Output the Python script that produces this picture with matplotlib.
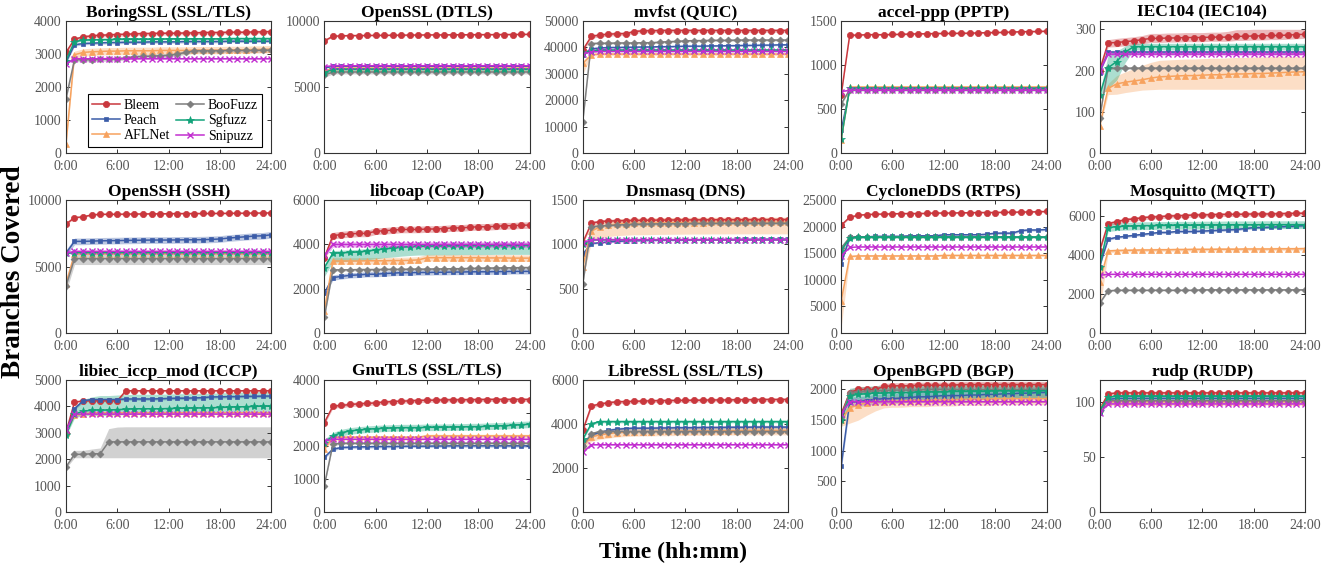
import numpy as np
import matplotlib.pyplot as plt

plt.rcParams['font.family'] = ['Liberation Serif', 'DejaVu Serif']

hours = list(range(25))
tools = ['Bleem', 'Peach', 'AFLNet', 'BooFuzz', 'Sgfuzz', 'Snipuzz']
colors = {'Bleem': '#c9373d', 'Peach': '#3b5ca8', 'AFLNet': '#f7a25e',
          'BooFuzz': '#7d7d7d', 'Sgfuzz': '#12a37a', 'Snipuzz': '#c22fd0'}
markers = {'Bleem': 'o', 'Peach': 's', 'AFLNet': '^', 'BooFuzz': 'D', 'Sgfuzz': '*', 'Snipuzz': 'x'}
msizes = {'Bleem': 4.5, 'Peach': 3.5, 'AFLNet': 5, 'BooFuzz': 3.5, 'Sgfuzz': 6, 'Snipuzz': 4}

titles = ['BoringSSL (SSL/TLS)', 'OpenSSL (DTLS)', 'mvfst (QUIC)', 'accel-ppp (PPTP)', 'IEC104 (IEC104)',
          'OpenSSH (SSH)', 'libcoap (CoAP)', 'Dnsmasq (DNS)', 'CycloneDDS (RTPS)', 'Mosquitto (MQTT)',
          'libiec_iccp_mod (ICCP)', 'GnuTLS (SSL/TLS)', 'LibreSSL (SSL/TLS)', 'OpenBGPD (BGP)', 'rudp (RUDP)']
ylims = [4000, 10000, 50000, 1500, 320,
         10000, 6000, 1500, 25000, 6800,
         5000, 4000, 6000, 2160, 120]
yticks = [[0, 1000, 2000, 3000, 4000], [0, 5000, 10000], [0, 10000, 20000, 30000, 40000, 50000],
          [0, 500, 1000, 1500], [0, 100, 200, 300],
          [0, 5000, 10000], [0, 2000, 4000, 6000], [0, 500, 1000, 1500],
          [0, 5000, 10000, 15000, 20000, 25000], [0, 2000, 4000, 6000],
          [0, 1000, 2000, 3000, 4000, 5000], [0, 1000, 2000, 3000, 4000], [0, 2000, 4000, 6000],
          [0, 500, 1000, 1500, 2000], [0, 50, 100]]

# ---- mean coverage per hour ----
boringssl = {
    'Bleem': [3050, 3450, 3520, 3550, 3570, 3580, 3590, 3600, 3610, 3620, 3620, 3630, 3630, 3630, 3640, 3640, 3650, 3650, 3650, 3660, 3660, 3660, 3670, 3670, 3680],
    'Peach': [2750, 3280, 3320, 3330, 3340, 3350, 3350, 3360, 3360, 3360, 3370, 3370, 3370, 3370, 3380, 3380, 3380, 3380, 3380, 3390, 3390, 3390, 3390, 3390, 3390],
    'AFLNet': [280, 2980, 3050, 3070, 3080, 3090, 3090, 3100, 3100, 3100, 3100, 3110, 3110, 3110, 3110, 3120, 3120, 3120, 3120, 3130, 3130, 3130, 3140, 3140, 3150],
    'BooFuzz': [1650, 2830, 2830, 2830, 2840, 2850, 2860, 2880, 2920, 2930, 2940, 2950, 2960, 3000, 3050, 3100, 3100, 3100, 3100, 3110, 3110, 3110, 3110, 3120, 3120],
    'Sgfuzz': [2800, 3380, 3420, 3430, 3440, 3440, 3450, 3450, 3450, 3450, 3450, 3450, 3460, 3460, 3460, 3460, 3460, 3460, 3460, 3470, 3470, 3470, 3470, 3470, 3470],
    'Snipuzz': [2700] + [2860] * 24,
}
boringssl_band = {'Bleem': 50, 'Peach': 40, 'AFLNet': 110, 'BooFuzz': 60, 'Sgfuzz': 30, 'Snipuzz': 15}

openssl = {
    'Bleem': [8500, 8850, 8880, 8900, 8900, 8910, 8920, 8920, 8930, 8930, 8940, 8940, 8950, 8950, 8950, 8960, 8960, 8960, 8970, 8970, 8970, 8980, 8980, 8990, 9000],
    'Peach': [6450] + [6580] * 24,
    'AFLNet': [6200] + [6450] * 24,
    'BooFuzz': [5900] + [6150] * 24,
    'Sgfuzz': [6100] + [6350] * 24,
    'Snipuzz': [6550] + [6620] * 24,
}
openssl_band = {'Bleem': 60, 'Peach': 40, 'AFLNet': 60, 'BooFuzz': 150, 'Sgfuzz': 100, 'Snipuzz': 20}

mvfst = {
    'Bleem': [39000, 44200, 44700, 45000, 45200, 45200, 46000, 46300, 46300] + [46400] * 16,
    'Peach': [37000, 39500, 39800, 40000, 40000, 40100, 40100, 40200, 40200, 40300, 40300, 40400, 40500, 40500, 40500, 40600, 40600, 40700, 40700, 40800, 40800, 40900, 40900, 41000, 41000],
    'AFLNet': [34000, 37300] + [37500] * 23,
    'BooFuzz': [12000, 41500, 41600, 41600, 41700, 41700, 41700, 41800, 41800, 42000, 42200, 42300, 42500, 42600, 42600, 42700, 42700, 42700, 42800, 42800, 42800, 42800, 42800, 42800, 42800],
    'Sgfuzz': [37800, 38800] + [39000] * 23,
    'Snipuzz': [37500, 38300] + [38500] * 23,
}
mvfst_band = {'Bleem': 700, 'Peach': 300, 'AFLNet': ([4000, 500] + [500] * 23, 500), 'BooFuzz': 400, 'Sgfuzz': 300, 'Snipuzz': 150}

accel = {
    'Bleem': [660, 1340, 1340, 1345, 1345, 1345, 1348, 1350, 1352, 1355, 1355, 1358, 1360, 1360, 1362, 1362, 1365, 1368, 1370, 1372, 1375, 1378, 1380, 1382, 1385],
    'Peach': [260] + [720] * 24,
    'AFLNet': [150] + [752] * 24,
    'BooFuzz': [560] + [722] * 24,
    'Sgfuzz': [160] + [738] * 24,
    'Snipuzz': [700] + [715] * 24,
}
accel_band = {'Bleem': 10, 'Peach': 10, 'AFLNet': 12, 'BooFuzz': 10, 'Sgfuzz': 10, 'Snipuzz': 5}

iec104 = {
    'Bleem': [200, 267, 268, 270, 272, 275, 278, 278, 279, 279, 280, 280, 280, 281, 281, 281, 283, 283, 284, 284, 285, 285, 286, 287, 288],
    'Peach': [195] + [245] * 24,
    'AFLNet': [65, 157, 168, 172, 175, 178, 182, 185, 186, 187, 188, 188, 189, 190, 190, 191, 192, 192, 193, 193, 194, 195, 196, 197, 197],
    'BooFuzz': [85] + [206] * 24,
    'Sgfuzz': [140, 207, 222, 245] + [258] * 21,
    'Snipuzz': [200] + [240] * 24,
}
iec104_band = {'Bleem': ([5] + [10] * 24, [5, 8, 10, 10, 10, 10, 12, 12, 12, 12, 12, 12, 12, 12, 12, 14, 16, 16, 16, 16, 15, 15, 14, 13, 12]),
               'Peach': 4,
               'AFLNet': ([5, 15, 25, 25, 25, 25, 28, 30, 31, 32, 33, 33, 34, 35, 35, 36, 37, 37, 38, 38, 39, 40, 41, 42, 42],
                          [5, 12, 20, 25, 30, 35, 38, 40, 40, 40, 40, 40, 40, 40, 40, 40, 40, 40, 40, 40, 40, 40, 38, 37, 37]),
               'BooFuzz': 3,
               'Sgfuzz': ([5, 50, 45, 25] + [8] * 21, [5, 30, 25, 15] + [8] * 21),
               'Snipuzz': 3}

openssh = {
    'Bleem': [8200, 8700, 8750, 8900, 8950, 8950, 8950, 8960, 8970, 8970, 8980, 8980, 8990, 9000, 9000, 9000, 9010, 9010, 9020, 9020, 9030, 9030, 9040, 9040, 9050],
    'Peach': [6000, 6900, 6900, 6920, 6940, 6950, 6960, 6970, 6980, 6990, 7000, 7000, 7000, 7010, 7020, 7020, 7030, 7050, 7080, 7150, 7200, 7250, 7300, 7320, 7400],
    'AFLNet': [3700] + [5950] * 24,
    'BooFuzz': [3500] + [5600] * 24,
    'Sgfuzz': [6000] + [6050] * 24,
    'Snipuzz': [6000] + [6150] * 24,
}
openssh_band = {'Bleem': 60, 'Peach': 250, 'AFLNet': 60, 'BooFuzz': 450, 'Sgfuzz': 60, 'Snipuzz': 30}

libcoap = {
    'Bleem': [3400, 4400, 4450, 4480, 4500, 4500, 4600, 4620, 4650, 4680, 4680, 4680, 4700, 4700, 4720, 4750, 4750, 4780, 4800, 4800, 4820, 4850, 4850, 4870, 4880],
    'Peach': [1800, 2500, 2550, 2600, 2620, 2650, 2650, 2680, 2700, 2720, 2720, 2730, 2730, 2740, 2740, 2750, 2750, 2760, 2760, 2760, 2770, 2770, 2780, 2780, 2780],
    'AFLNet': [1000, 3250, 3250, 3250, 3250, 3260, 3260, 3260, 3270, 3270, 3280, 3300, 3400, 3400, 3400, 3400, 3400, 3400, 3400, 3390, 3390, 3390, 3380, 3380, 3380],
    'BooFuzz': [700, 2850, 2850, 2850, 2860, 2860, 2860, 2870, 2870, 2870, 2880, 2880, 2880, 2890, 2890, 2900, 2900, 2910, 2920, 2930, 2930, 2940, 2940, 2950, 2950],
    'Sgfuzz': [2950, 3600, 3620, 3640, 3660, 3700, 3750, 3800, 3830, 3870, 3900, 3920, 3920, 3930, 3930, 3930, 3940, 3940, 3940, 3940, 3950, 3950, 3950, 3950, 3950],
    'Snipuzz': [3500] + [4000] * 24,
}
libcoap_band = {'Bleem': 150, 'Peach': 120, 'AFLNet': 150, 'BooFuzz': 60, 'Sgfuzz': (400, 120), 'Snipuzz': 120}

dnsmasq = {
    'Bleem': [1020, 1240, 1260, 1265, 1268, 1270, 1272, 1274, 1275, 1276, 1277, 1278, 1278, 1279, 1279, 1280, 1280, 1280, 1280, 1280, 1281, 1281, 1282, 1282, 1282],
    'Peach': [890, 1010, 1020, 1030, 1035, 1040, 1042, 1045, 1047, 1048, 1050, 1050, 1052, 1053, 1054, 1055, 1055, 1056, 1057, 1058, 1058, 1059, 1060, 1060, 1060],
    'AFLNet': [750, 1150, 1200, 1220, 1230, 1235, 1240, 1240, 1242, 1244, 1245, 1246, 1247, 1248, 1248, 1249, 1249, 1250, 1250, 1250, 1250, 1250, 1250, 1250, 1250],
    'BooFuzz': [550, 1200, 1210, 1215, 1220, 1225, 1228, 1230, 1232, 1234, 1235, 1236, 1237, 1238, 1238, 1239, 1239, 1240, 1240, 1240, 1240, 1240, 1240, 1240, 1240],
    'Sgfuzz': [1000] + [1055] * 24,
    'Snipuzz': [1020] + [1052] * 24,
}
dnsmasq_band = {'Bleem': 20, 'Peach': 10, 'AFLNet': (130, 60), 'BooFuzz': 15, 'Sgfuzz': 8, 'Snipuzz': 5}

cyclonedds = {
    'Bleem': [20300, 21800, 22200, 22300, 22400, 22400, 22450, 22500, 22500, 22500, 22550, 22600, 22600, 22600, 22650, 22650, 22700, 22700, 22700, 22750, 22750, 22800, 22800, 22850, 22900],
    'Peach': [13000, 18000, 18100, 18100, 18200, 18200, 18200, 18200, 18300, 18300, 18300, 18300, 18500, 18500, 18500, 18500, 18500, 18600, 18800, 18800, 18800, 19300, 19400, 19400, 19500],
    'AFLNet': [6000, 14400] + [14500] * 10 + [14600] * 13,
    'BooFuzz': [16000, 18000] + [18100] * 23,
    'Sgfuzz': [15500, 17900] + [18000] * 23,
    'Snipuzz': [14500, 16100] + [16200] * 23,
}
cyclonedds_band = {'Bleem': 150, 'Peach': 200, 'AFLNet': ([5000, 200] + [150] * 23, 150),
                   'BooFuzz': ([1500, 600] + [100] * 23, 100), 'Sgfuzz': 100, 'Snipuzz': 50}

mosquitto = {
    'Bleem': [4200, 5600, 5700, 5800, 5850, 5900, 5950, 5950, 6000, 6000, 6020, 6050, 6050, 6060, 6070, 6080, 6080, 6090, 6100, 6100, 6100, 6110, 6120, 6130, 6140],
    'Peach': [3400, 4800, 4900, 4950, 5000, 5050, 5100, 5150, 5150, 5200, 5200, 5200, 5220, 5240, 5260, 5280, 5300, 5350, 5400, 5400, 5420, 5440, 5460, 5480, 5500],
    'AFLNet': [2600, 4200, 4220, 4230, 4240, 4250, 4250, 4260, 4260, 4270, 4270, 4280, 4280, 4280, 4290, 4290, 4290, 4300, 4300, 4300, 4300, 4310, 4310, 4310, 4320],
    'BooFuzz': [1500, 2150] + [2180] * 10 + [2200] * 13,
    'Sgfuzz': [3400, 5400, 5450, 5470, 5480, 5500, 5500, 5510, 5510, 5520, 5520, 5520, 5530, 5530, 5530, 5540, 5540, 5540, 5540, 5550, 5550, 5550, 5550, 5550, 5550],
    'Snipuzz': [2950] + [3000] * 24,
}
mosquitto_band = {'Bleem': 100, 'Peach': 60, 'AFLNet': ([1500, 100] + [80] * 23, 80), 'BooFuzz': 40, 'Sgfuzz': 200, 'Snipuzz': 20}

iccp = {
    'Bleem': [3000, 4150, 4200, 4200, 4200, 4200, 4200] + [4580] * 18,
    'Peach': [3000, 3900, 4200, 4250, 4250, 4250, 4250, 4270, 4270, 4270, 4270, 4280, 4290, 4300, 4300, 4310, 4320, 4350, 4350, 4360, 4360, 4370, 4370, 4380, 4380],
    'AFLNet': [3000, 3650, 3700] + [3750] * 22,
    'BooFuzz': [1700, 2180, 2180, 2200, 2200] + [2650] * 20,
    'Sgfuzz': [2900, 3700, 3800, 3850, 3850, 3850, 3870, 3880, 3900, 3900, 3900, 3900, 3910, 3920, 3920, 3930, 3930, 3940, 3950, 3960, 3970, 3980, 3990, 4000, 4000],
    'Snipuzz': [3100] + [3700] * 24,
}
iccp_band = {'Bleem': 40, 'Peach': 50, 'AFLNet': 50,
             'BooFuzz': ([50, 130, 130, 150, 150] + [600] * 20, [50, 150, 150, 180, 220, 500, 560] + [570] * 18),
             'Sgfuzz': ([50, 150, 150] + [200] * 22, [50, 300, 450, 500] + [550] * 21), 'Snipuzz': 20}

gnutls = {
    'Bleem': [2700, 3200, 3220, 3250, 3270, 3280, 3300, 3320, 3340, 3350, 3360, 3370, 3380, 3380, 3390, 3390, 3390, 3395, 3395, 3400, 3400, 3400, 3400, 3400, 3400],
    'Peach': [1650, 1900, 1950, 1960, 1970, 1970, 1980, 1980, 1980, 1985, 1990, 1990, 1990, 1995, 1995] + [2000] * 10,
    'AFLNet': [1900, 2250] + [2260] * 10 + [2300] * 13,
    'BooFuzz': [800, 2050] + [2080] * 23,
    'Sgfuzz': [2100, 2300, 2400, 2450, 2480, 2500, 2520, 2530, 2540, 2550, 2550, 2550, 2560, 2560, 2560, 2570, 2570, 2580, 2580, 2590, 2600, 2610, 2620, 2640, 2650],
    'Snipuzz': [2150] + [2200] * 24,
}
gnutls_band = {'Bleem': 60, 'Peach': 40, 'AFLNet': 50, 'BooFuzz': 40, 'Sgfuzz': 100, 'Snipuzz': 20}

libressl = {
    'Bleem': [3700, 4800, 4900, 4950, 5000, 5000, 5020, 5030, 5040, 5050, 5050, 5060, 5060, 5070, 5070, 5080, 5080, 5080, 5090, 5090, 5090, 5100, 5100, 5100, 5100],
    'Peach': [3000, 3500, 3600, 3700, 3750, 3780, 3800, 3800, 3800, 3810, 3810, 3820, 3820, 3820, 3830, 3830, 3830, 3840, 3840, 3840, 3850, 3850, 3850, 3850, 3850],
    'AFLNet': [3000, 3400, 3500, 3550, 3600, 3620, 3640, 3650, 3650, 3660, 3660, 3670, 3670, 3680, 3680, 3680, 3690, 3690, 3690, 3700, 3700, 3700, 3700, 3700, 3700],
    'BooFuzz': [3000, 3550] + [3650] * 23,
    'Sgfuzz': [3300, 4000] + [4100] * 23,
    'Snipuzz': [2700] + [3050] * 24,
}
libressl_band = {'Bleem': 80, 'Peach': 80, 'AFLNet': 200, 'BooFuzz': 60, 'Sgfuzz': 60, 'Snipuzz': 20}

openbgpd = {
    'Bleem': [1600, 1950, 2000, 2000, 2000, 2050, 2060, 2060, 2060, 2070, 2070, 2070, 2070, 2070] + [2080] * 11,
    'Peach': [750, 1800, 1800, 1820, 1840, 1850, 1850, 1860, 1870, 1880, 1880, 1890, 1900, 1900, 1900, 1910, 1910, 1920, 1920, 1930, 1930, 1940, 1940, 1950, 1950],
    'AFLNet': [1500, 1700, 1750, 1780, 1800, 1800, 1810, 1810, 1820, 1820, 1820, 1830, 1830, 1830, 1840, 1840, 1840, 1840, 1850, 1850, 1850, 1850, 1850, 1850, 1850],
    'BooFuzz': [1550, 1950, 1960, 1970, 1980, 1980, 1990, 1990, 1990, 1990] + [2000] * 15,
    'Sgfuzz': [1500, 1900, 1920, 1930, 1940, 1940, 1950, 1950, 1950, 1960, 1960, 1960, 1960, 1970, 1970, 1970, 1970, 1970] + [1980] * 7,
    'Snipuzz': [1600] + [1800] * 24,
}
openbgpd_band = {'Bleem': 50, 'Peach': 80, 'AFLNet': ([100, 250, 250, 200, 150] + [100] * 20, 80),
                 'BooFuzz': 40, 'Sgfuzz': 120, 'Snipuzz': 15}

rudp = {
    'Bleem': [93, 107] + [108] * 23,
    'Peach': [90, 102] + [103] * 23,
    'AFLNet': [95] + [100] * 24,
    'BooFuzz': [92] + [101] * 24,
    'Sgfuzz': [92, 104] + [105] * 23,
    'Snipuzz': [90] + [98] * 24,
}
rudp_band = {'Bleem': 1.5, 'Peach': 1.5, 'AFLNet': 1.5, 'BooFuzz': 1.5, 'Sgfuzz': 1.5, 'Snipuzz': 1}

panels = [boringssl, openssl, mvfst, accel, iec104,
          openssh, libcoap, dnsmasq, cyclonedds, mosquitto,
          iccp, gnutls, libressl, openbgpd, rudp]
bands = [boringssl_band, openssl_band, mvfst_band, accel_band, iec104_band,
         openssh_band, libcoap_band, dnsmasq_band, cyclonedds_band, mosquitto_band,
         iccp_band, gnutls_band, libressl_band, openbgpd_band, rudp_band]

fig, axes = plt.subplots(3, 5, figsize=(13.32, 5.71), dpi=100)
fig.subplots_adjust(left=0.0495, right=0.9797, top=0.9632, bottom=0.1033, wspace=0.258, hspace=0.355)

x = np.array(hours)
for i, ax in enumerate(axes.flat):
    data = panels[i]
    band = bands[i]
    for t in tools:
        m = np.array(data[t], dtype=float)
        b = band[t]
        if isinstance(b, tuple):
            down, up = np.array(b[0], dtype=float), np.array(b[1], dtype=float)
        else:
            down = up = float(b)
        ax.fill_between(x, m - down, m + up, color=colors[t], alpha=0.35, lw=0)
    for t in tools:
        ax.plot(x, data[t], color=colors[t], marker=markers[t], ms=msizes[t], lw=1.1,
                mew=1 if t == 'Snipuzz' else 0.5, label=t)
    ax.set_xlim(0, 24)
    ax.set_ylim(0, ylims[i])
    ax.set_xticks([0, 6, 12, 18, 24])
    ax.set_xticklabels(['0:00', '6:00', '12:00', '18:00', '24:00'])
    ax.set_yticks(yticks[i])
    ax.tick_params(direction='in', top=True, right=True, labelsize=10, labelcolor='#555555',
                   length=3, width=0.7, color='#333333')
    ax.tick_params(axis='x', pad=5)
    ax.tick_params(axis='y', pad=3)
    for s in ax.spines.values():
        s.set_color('#333333')
        s.set_linewidth(0.8)
    ax.set_title(titles[i], fontsize=12.5, fontweight='bold', pad=3)

leg = axes[0, 0].legend(ncol=2, loc='lower right', bbox_to_anchor=(0.955, 0.05), fontsize=10,
                        frameon=True, fancybox=False, framealpha=1, edgecolor='black',
                        handlelength=2.0, labelspacing=0.15, columnspacing=0.4, handletextpad=0.3,
                        borderpad=0.3, borderaxespad=0)
leg.get_frame().set_linewidth(0.8)

fig.text(0.0105, 0.525, 'Branches Covered', rotation=90, fontsize=19.5, fontweight='bold', va='center', ha='center')
fig.text(0.505, 0.033, 'Time (hh:mm)', fontsize=17, fontweight='bold', va='center', ha='center')

fig.savefig('out.png', dpi=100)
